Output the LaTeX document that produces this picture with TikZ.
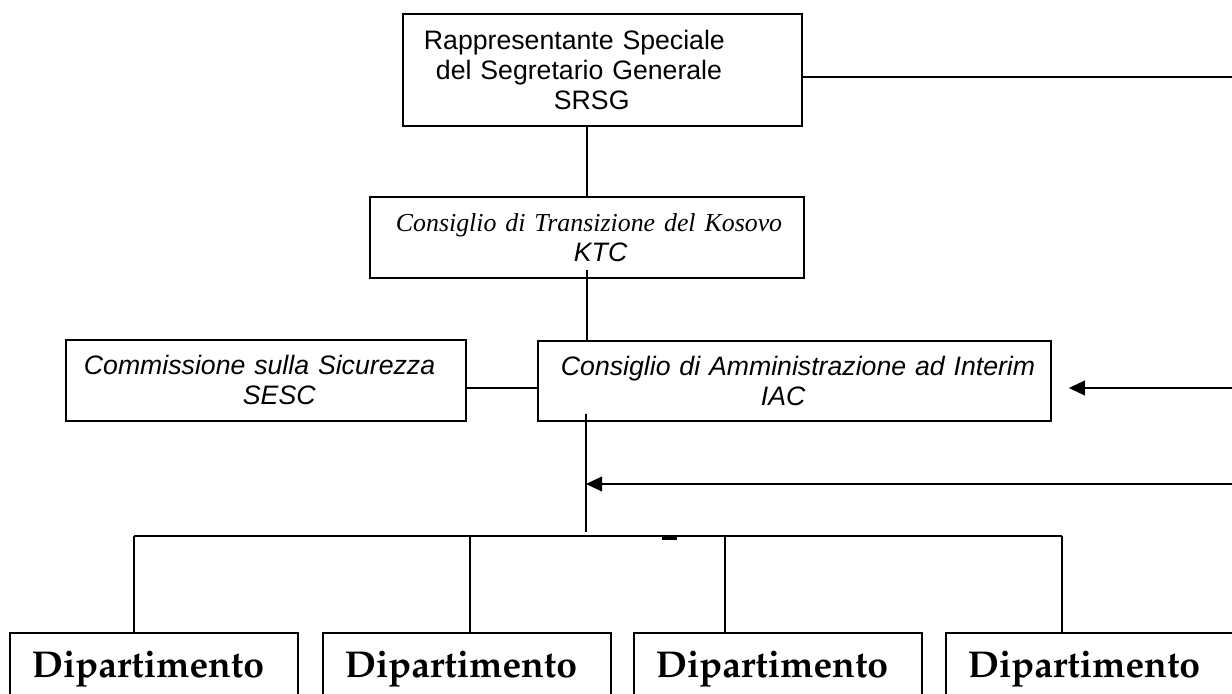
\documentclass[tikz,border=0pt]{standalone}
\usepackage[T1]{fontenc}
\usepackage{fontspec}
\setmainfont{Liberation Serif}
\setsansfont{Liberation Sans}
\usetikzlibrary{arrows.meta,calc}
\newcommand{\deptfont}{\fontencoding{T1}\fontfamily{ppl}\fontseries{b}\fontshape{n}\fontsize{28}{32}\selectfont}

\begin{document}
\begin{tikzpicture}[x=0.75pt, y=-0.75pt, line width=1.4pt]
            \tikzset{box/.style={draw, anchor=north west, align=left, inner ysep=0pt, font=\sffamily\fontsize{20}{22.5}\selectfont},
                     ibox/.style={box, font=\sffamily\itshape\fontsize{20}{22.5}\selectfont},
                     dept/.style={draw, anchor=north west, align=left, inner xsep=16.5pt, inner ysep=14pt, text width=183pt, font=\deptfont},
                     arr/.style={-{Triangle[length=12pt,width=11pt]}}}
            \path[use as bounding box, fill=white] (0,0) rectangle (1232,693);
            \node[box, inner xsep=15.75pt, text width=267.75pt, minimum height=84pt] (srsg) at (402,13)
                {Rappresentante Speciale\\\hspace*{9pt}del Segretario Generale\\\hspace*{97.5pt}SRSG};
            \node[ibox, inner xsep=19.5pt, text width=286.5pt, minimum height=60.75pt] (ktc) at (369,196)
                {\mbox{\rmfamily\fontsize{19.4}{22.5}\selectfont Consiglio di Transizione del Kosovo}\\\hspace*{133.5pt}KTC};
            \node[ibox, inner xsep=13.5pt, text width=273pt, minimum height=60.75pt] (sesc) at (65,339)
                {Commissione sulla Sicurezza\\\hspace*{119.25pt}SESC};
            \node[ibox, inner xsep=17.25pt, text width=350.25pt, minimum height=60pt] (iac) at (537,340)
                {\mbox{Consiglio di Amministrazione ad Interim}\\\hspace*{150pt}IAC};
            \foreach \x/\n in {9/1, 322/2, 633/3, 945/4}
                \node[dept] (dep\n) at (\x,632) {Dipartimento};
            \coordinate (rtop) at (1232,77);
            \coordinate (rmid) at (1232,388);
            \coordinate (rlow) at (1232,484);
            \coordinate (hub) at (586,532);
            \coordinate (d1) at (134,536);
            \coordinate (d2) at (470,536);
            \coordinate (d3) at (725,536);
            \coordinate (d4) at (1062,536);
            \draw (srsg.south -| ktc.north) -- (ktc.north);
            \draw (srsg.east |- rtop) -- (rtop);
            \draw ($(ktc.south)+(0,-9)$) -- (iac.north -| ktc.south);
            \draw (sesc.east |- rmid) -- (iac.west |- rmid);
            \draw[arr] (rmid) -- ($(iac.east |- rmid)+(17,0)$);
            \draw ($(iac.south -| hub)+(0,-8)$) -- (hub);
            \draw[arr] (rlow) -- (rlow -| hub);
            \draw (d1) -- (d4);
            \fill (662,535.5) rectangle (677,539.5);
            \foreach \d/\n in {d1/1, d2/2, d3/3, d4/4}
                \draw (\d) -- (\d |- dep\n.north);
\end{tikzpicture}
\end{document}
